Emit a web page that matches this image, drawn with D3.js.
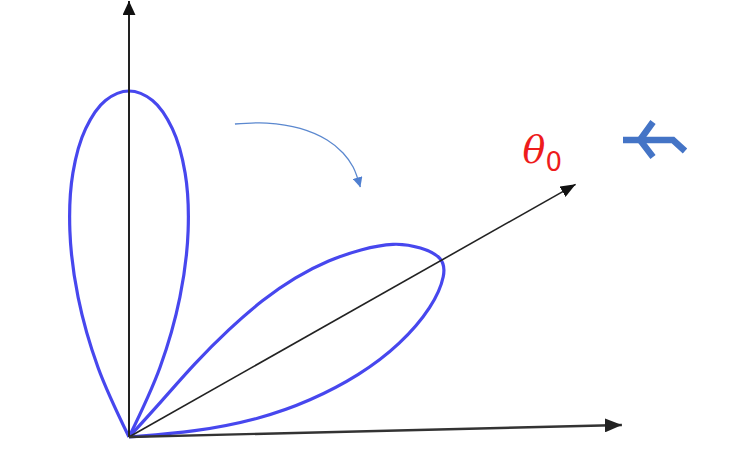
<!DOCTYPE html>
<html>
<head>
<meta charset="utf-8">
<script src="https://cdn.jsdelivr.net/npm/d3@7"></script>
<style>
  body { margin: 0; background: #fff; }
  svg { display: block; }
</style>
</head>
<body>
<svg id="chart" width="742" height="476"></svg>
<script>
// polar angles in degrees, counter-clockwise from the horizontal axis
// radii in units of the main lobe length

// main lobe, pointing straight up
var mainLobeAngles = [62, 66, 70, 74, 78, 82, 86, 90, 94, 98, 102, 106, 110, 114, 118];
var mainLobeRadii  = [0, 0.22, 0.43, 0.62, 0.78, 0.90, 0.975, 1, 0.975, 0.90, 0.78, 0.62, 0.43, 0.22, 0];

// steered lobe, pointing towards theta0
var steerLobeAngles = [2, 4.3, 7.8, 11.2, 15.0, 18.8, 23.2, 27.2, 29.8, 33.0, 36.3, 39.0, 41.5, 43.9, 45.8, 47.2, 48.3, 47.6, 47];
var steerLobeRadii  = [0, 0.191, 0.382, 0.533, 0.691, 0.828, 0.955, 1.03, 1.045, 1.008, 0.95, 0.862, 0.772, 0.666, 0.552, 0.425, 0.286, 0.137, 0];

// axes: vertical, steering direction, horizontal
var axisNames   = ['y', 'theta0', 'x'];
var axisAngles  = [90, 29.5, 1.4];
var axisLengths = [1.26, 1.483, 1.425];

// curved arrow showing the rotation of the beam
var turnAngles = [71.3, 66.3, 61.0, 56.3, 53.0, 50.3, 47.2];
var turnRadii  = [0.955, 0.991, 1.020, 1.032, 1.028, 1.014, 0.984];

var steerLabel = 'θ';
var steerSub = '0';

var ORIGIN = [129, 437];
var LOBE_COLOR = '#4747ee';

var svg = d3.select('#chart');
svg.append('rect').attr('width', 742).attr('height', 476).attr('fill', '#fff');

var r = d3.scaleLinear().domain([0, 1]).range([0, 346]);
var toRad = function (deg) { return (90 - deg) * Math.PI / 180; };

var zip = function (angles, radii) {
  return angles.map(function (a, i) { return {a: a, r: radii[i]}; });
};

var radial = d3.lineRadial()
    .angle(function (d) { return toRad(d.a); })
    .radius(function (d) { return r(d.r); })
    .curve(d3.curveCatmullRom.alpha(0.5));

var smoothRadial = d3.lineRadial()
    .angle(function (d) { return toRad(d.a); })
    .radius(function (d) { return r(d.r); })
    .curve(d3.curveBasis);

var point = function (deg, len) {
  var a = toRad(deg);
  return [r(len) * Math.sin(a), -r(len) * Math.cos(a)];
};

// arrow heads
var defs = svg.append('defs');
var addMarker = function (id, len, half, color) {
  defs.append('marker')
      .attr('id', id)
      .attr('markerUnits', 'userSpaceOnUse')
      .attr('viewBox', [0, -half, len, half * 2].join(' '))
      .attr('refX', len)
      .attr('refY', 0)
      .attr('markerWidth', len)
      .attr('markerHeight', half * 2)
      .attr('orient', 'auto')
      .append('path')
      .attr('d', 'M0,' + (-half) + 'L' + len + ',0L0,' + half + 'Z')
      .attr('fill', color);
};
addMarker('head-y', 14, 6.5, '#111');
addMarker('head-theta0', 15, 6, '#111');
addMarker('head-x', 17, 7, '#222');
addMarker('head-turn', 10, 5, '#4f7fd0');

var g = svg.append('g').attr('transform', 'translate(' + ORIGIN[0] + ',' + ORIGIN[1] + ')');

// lobes
g.append('path')
    .attr('d', radial(zip(mainLobeAngles, mainLobeRadii)))
    .attr('fill', 'none')
    .attr('stroke', LOBE_COLOR)
    .attr('stroke-width', 3.2);

g.append('path')
    .attr('d', smoothRadial(zip(steerLobeAngles, steerLobeRadii)))
    .attr('fill', 'none')
    .attr('stroke', LOBE_COLOR)
    .attr('stroke-width', 3.2);

// axes
var axisWidth = {y: 2, theta0: 1.6, x: 2.4};
var axisColor = {y: '#222', theta0: '#222', x: '#333'};
axisNames.forEach(function (name, i) {
  var end = point(axisAngles[i], axisLengths[i]);
  g.append('line')
      .attr('x1', 0).attr('y1', 0)
      .attr('x2', end[0]).attr('y2', end[1])
      .attr('stroke', axisColor[name])
      .attr('stroke-width', axisWidth[name])
      .attr('marker-end', 'url(#head-' + name + ')');
});

// rotation arrow
g.append('path')
    .attr('d', radial(zip(turnAngles, turnRadii)))
    .attr('fill', 'none')
    .attr('stroke', '#5b88cf')
    .attr('stroke-width', 1.3)
    .attr('marker-end', 'url(#head-turn)');

// theta0 label near the tip of its axis
var tip = point(axisAngles[1], axisLengths[1]);
g.append('text')
    .attr('x', tip[0] - 53)
    .attr('y', tip[1] - 21)
    .attr('fill', '#ee1c1c')
    .style('font-family', '"DejaVu Serif", serif')
    .style('font-style', 'italic')
    .style('font-size', '38px')
    .text(steerLabel);
g.append('text')
    .attr('x', tip[0] - 30)
    .attr('y', tip[1] - 13)
    .attr('fill', '#ee1c1c')
    .style('font-family', '"DejaVu Sans", sans-serif')
    .style('font-size', '26px')
    .text(steerSub);

// small blue return icon
var icon = svg.append('g')
    .attr('transform', 'translate(623,140)')
    .attr('fill', 'none')
    .attr('stroke', '#4474c6')
    .attr('stroke-width', 6.5);
icon.append('path').attr('d', 'M0,0H50L62,11');
icon.append('path').attr('d', 'M30,-18L17,0L30,17');
</script>
</body>
</html>
